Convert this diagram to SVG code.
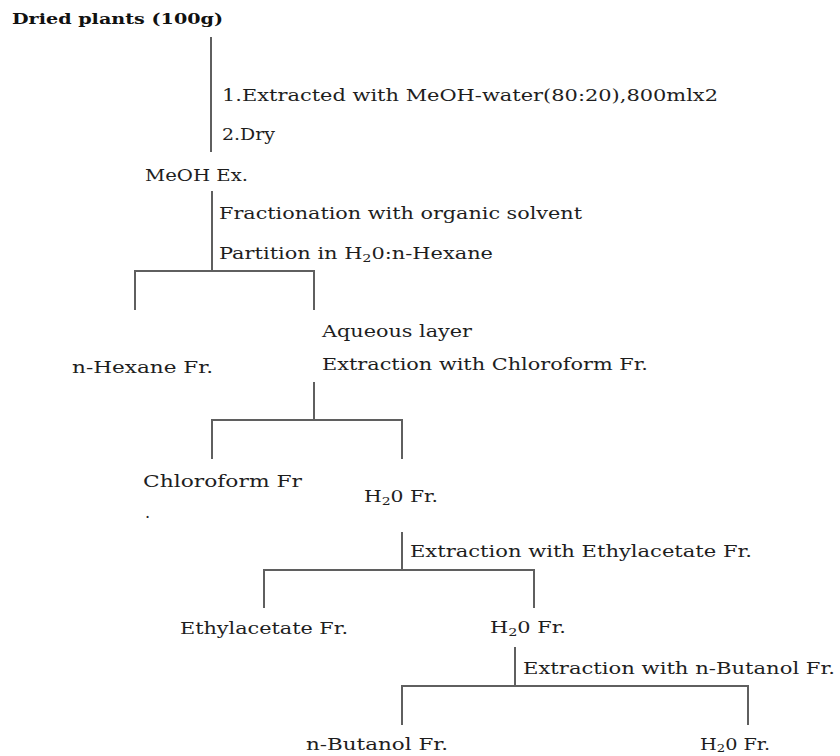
<svg xmlns="http://www.w3.org/2000/svg" width="840" height="756" viewBox="0 0 840 756">
<style>
  text { font-family: "DejaVu Serif", "Liberation Serif", serif; font-size: 16px; fill: #1e1e1e; }
  .b { font-weight: bold; font-size: 14.5px; fill: #111; }
  .sub { font-size: 11px; }
  .ln { stroke: #5f5f5f; stroke-width: 2; fill: none; stroke-linecap: butt; }
</style>
<rect width="840" height="756" fill="#ffffff"/>
<g id="connectors">
  <path class="ln" d="M211 37V152"/>
  <path class="ln" d="M212 191V271M135 310V271H314V310"/>
  <path class="ln" d="M314 382V420M212 459V420H402V459"/>
  <path class="ln" d="M402 532V570M264 608V570H534V608"/>
  <path class="ln" d="M515 647V686M402 725V686H748V725"/>
</g>
<g id="step-labels">
  <text x="222" y="101" textLength="496" lengthAdjust="spacingAndGlyphs">1.Extracted with MeOH-water(80:20),800mlx2</text>
  <text x="222" y="140" textLength="53" lengthAdjust="spacingAndGlyphs">2.Dry</text>
  <text x="219" y="219" textLength="363" lengthAdjust="spacingAndGlyphs">Fractionation with organic solvent</text>
  <text x="219" y="259" textLength="274" lengthAdjust="spacingAndGlyphs">Partition in H<tspan class="sub" dy="3">2</tspan><tspan dy="-3">0:n-Hexane</tspan></text>
  <text x="322" y="370" textLength="326" lengthAdjust="spacingAndGlyphs">Extraction with Chloroform Fr.</text>
  <text x="410" y="557" textLength="342" lengthAdjust="spacingAndGlyphs">Extraction with Ethylacetate Fr.</text>
  <text x="523" y="674" textLength="312" lengthAdjust="spacingAndGlyphs">Extraction with n-Butanol Fr.</text>
</g>
<g id="node-dried-plants">
  <text class="b" x="12" y="24" textLength="211" lengthAdjust="spacingAndGlyphs">Dried plants (100g)</text>
</g>
<g id="node-meoh-ex">
  <text x="145" y="181" textLength="103" lengthAdjust="spacingAndGlyphs">MeOH Ex.</text>
</g>
<g id="node-n-hexane">
  <text x="72" y="373" textLength="141" lengthAdjust="spacingAndGlyphs">n-Hexane Fr.</text>
</g>
<g id="node-aqueous">
  <text x="322" y="337" textLength="150" lengthAdjust="spacingAndGlyphs">Aqueous layer</text>
</g>
<g id="node-chloroform">
  <text x="143" y="487" textLength="159" lengthAdjust="spacingAndGlyphs">Chloroform Fr</text>
  <text x="145" y="518">.</text>
</g>
<g id="node-h2o-1">
  <text x="364" y="502" textLength="74" lengthAdjust="spacingAndGlyphs">H<tspan class="sub" dy="3">2</tspan><tspan dy="-3">0 Fr.</tspan></text>
</g>
<g id="node-ethylacetate">
  <text x="180" y="634" textLength="168" lengthAdjust="spacingAndGlyphs">Ethylacetate Fr.</text>
</g>
<g id="node-h2o-2">
  <text x="490" y="633" textLength="76" lengthAdjust="spacingAndGlyphs">H<tspan class="sub" dy="3">2</tspan><tspan dy="-3">0 Fr.</tspan></text>
</g>
<g id="node-n-butanol">
  <text x="306" y="750" textLength="142" lengthAdjust="spacingAndGlyphs">n-Butanol Fr.</text>
</g>
<g id="node-h2o-3">
  <text x="700" y="750" textLength="70" lengthAdjust="spacingAndGlyphs">H<tspan class="sub" dy="2">2</tspan><tspan dy="-2">0 Fr.</tspan></text>
</g>
</svg>
